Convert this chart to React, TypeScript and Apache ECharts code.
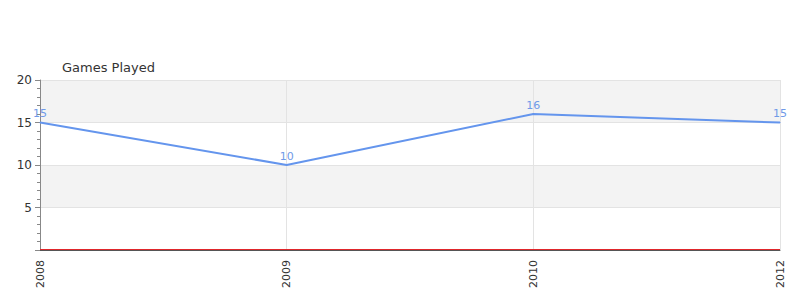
import React, { useEffect, useRef } from "react";
import * as echarts from "echarts";

const categories = ["2008", "2009", "2010", "2012"];
const gamesPlayed = [15, 10, 16, 15];
const yTicks = [0, 5, 10, 15, 20];

export default function App() {
  const ref = useRef<HTMLDivElement>(null);
  useEffect(() => {
    const chart = echarts.init(ref.current!, undefined, { renderer: "svg" });
    chart.setOption({
      animation: false,
      textStyle: { fontFamily: "DejaVu Sans" },
      title: {
        text: "Games Played",
        left: 57,
        top: 56,
        textStyle: { fontSize: 13, fontWeight: "normal", color: "#333", fontFamily: "DejaVu Sans" },
      },
      grid: { left: 40, right: 20, top: 80, bottom: 50, containLabel: false },
      xAxis: {
        type: "category",
        data: categories,
        boundaryGap: false,
        axisLine: { show: true, lineStyle: { color: "#555", width: 1 } },
        axisTick: { show: false },
        axisLabel: { rotate: 90, color: "#333", fontSize: 11, margin: 10, fontFamily: "DejaVu Sans" },
        splitLine: { show: true, lineStyle: { color: "#e3e3e3" } },
      },
      yAxis: {
        type: "value",
        min: yTicks[0],
        max: yTicks[yTicks.length - 1],
        interval: 5,
        axisLine: { show: true, lineStyle: { color: "#888" } },
        axisTick: { show: true, length: 5, lineStyle: { color: "#888" } },
        minorTick: { show: true, splitNumber: 5, length: 3, lineStyle: { color: "#888" } },
        axisLabel: {
          color: "#333",
          fontSize: 12,
          margin: 8,
          fontFamily: "DejaVu Sans",
          formatter: (v: number) => (v === 0 ? "" : String(v)),
        },
        splitLine: { show: true, lineStyle: { color: "#e3e3e3" } },
        splitArea: { show: true, areaStyle: { color: ["#ffffff", "#f3f3f3"] } },
      },
      series: [
        {
          type: "line",
          data: gamesPlayed,
          symbol: "circle",
          symbolSize: 1,
          showSymbol: true,
          lineStyle: { color: "#6495ED", width: 2 },
          itemStyle: { color: "#6495ED" },
          label: { show: true, position: "top", color: "#6f9ae8", fontSize: 11, distance: 3, opacity: 1 },
          markLine: {
            silent: true,
            symbol: "none",
            z: 10,
            label: { show: false },
            lineStyle: { color: "#e0262b", width: 1, type: "solid" },
            data: [{ yAxis: 0.12 }],
          },
        },
      ],
    });
    return () => chart.dispose();
  }, []);
  return (
    <div
      ref={ref}
      style={{ position: "absolute", left: 0, top: 0, width: 800, height: 300 }}
    />
  );
}
